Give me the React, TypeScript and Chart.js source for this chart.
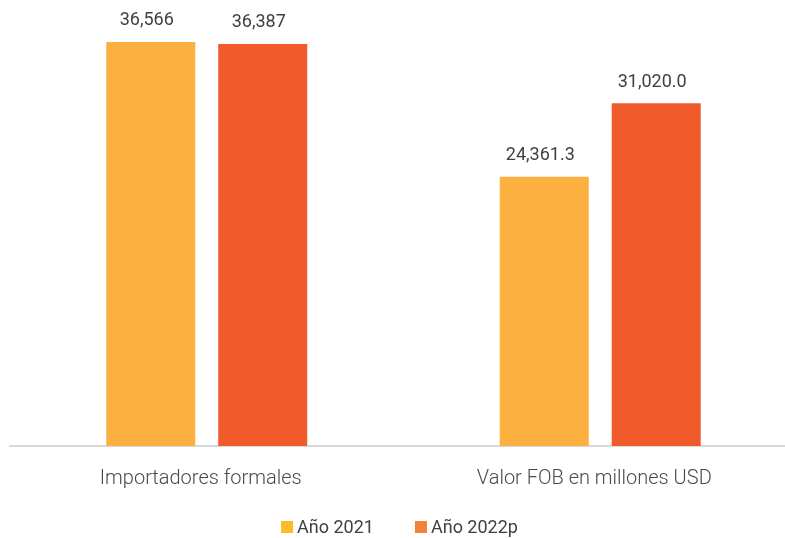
import React, { useEffect, useRef } from "react";
import { Chart, registerables } from "chart.js";

Chart.register(...registerables);

const categories = ["Importadores formales", "Valor FOB en millones USD"];
const categoryDecimals = [0, 1];
const seriesNames = ["Año 2021", "Año 2022p"];
const values2021 = [36566, 24361.3];
const values2022 = [36387, 31020.0];
const barColors = ["#FBB040", "#F15A2B"];
const legendColors = ["#FDBA2C", "#F0833C"];

const valueLabelPlugin = {
  id: "valueLabels",
  afterDatasetsDraw(chart: any) {
    const ctx = chart.ctx;
    ctx.save();
    ctx.font = "400 18px Roboto";
    ctx.fillStyle = "#404040";
    ctx.textAlign = "center";
    ctx.textBaseline = "middle";
    chart.data.datasets.forEach((ds: any, di: number) => {
      const meta = chart.getDatasetMeta(di);
      meta.data.forEach((el: any, i: number) => {
        const v = ds.data[i] as number;
        const d = categoryDecimals[i];
        const txt = v.toLocaleString("en-US", { minimumFractionDigits: d, maximumFractionDigits: d });
        ctx.fillText(txt, el.x - 4, el.y - 21);
      });
    });
    ctx.restore();
  },
};

const customLegendPlugin = {
  id: "customLegend",
  afterDraw(chart: any) {
    const ctx = chart.ctx;
    ctx.save();
    ctx.font = "400 18px Roboto";
    const box = 12;
    const gap = 4;
    const itemGap = 41;
    const labels = chart.data.datasets.map((d: any) => d.label as string);
    const widths = labels.map((l: string) => ctx.measureText(l).width);
    let total = 0;
    widths.forEach((w: number, i: number) => {
      total += box + gap + w + (i > 0 ? itemGap : 0);
    });
    const cy = 527;
    let x = 399.5 - total / 2;
    labels.forEach((l: string, i: number) => {
      ctx.fillStyle = legendColors[i];
      ctx.fillRect(x, cy - box / 2, box, box);
      ctx.fillStyle = "#404040";
      ctx.textAlign = "left";
      ctx.textBaseline = "middle";
      ctx.fillText(l, x + box + gap, cy + 1);
      x += box + gap + widths[i] + itemGap;
    });
    ctx.restore();
  },
};

export default function App() {
  const canvasRef = useRef<HTMLCanvasElement | null>(null);

  useEffect(() => {
    if (!canvasRef.current) return;
    const chart = new Chart(canvasRef.current, {
      type: "bar",
      data: {
        labels: categories,
        datasets: [
          {
            label: seriesNames[0],
            data: values2021,
            backgroundColor: barColors[0],
            categoryPercentage: 0.569,
            barPercentage: 0.795,
          },
          {
            label: seriesNames[1],
            data: values2022,
            backgroundColor: barColors[1],
            categoryPercentage: 0.569,
            barPercentage: 0.795,
          },
        ],
      },
      options: {
        animation: false,
        responsive: false,
        maintainAspectRatio: false,
        layout: { padding: { left: 10, right: 3, top: 4, bottom: 0 } },
        plugins: {
          legend: { display: false },
          tooltip: { enabled: false },
        },
        scales: {
          x: {
            grid: { display: false, drawTicks: false },
            border: { display: true, color: "#D9D9D9", width: 2 },
            ticks: {
              padding: 21,
              labelOffset: -6,
              color: "#4A4A4A",
              font: { family: "Roboto", size: 20, weight: "300" },
              maxRotation: 0,
            },
            afterFit(scale: any) {
              scale.height = 92;
            },
          },
          y: {
            display: false,
            min: 0,
            max: 40000,
          },
        },
      },
      plugins: [valueLabelPlugin, customLegendPlugin],
    });
    return () => chart.destroy();
  }, []);

  return (
    <div
      style={{
        position: "absolute",
        left: 0,
        top: 0,
        width: 785,
        height: 538,
        overflow: "hidden",
        background: "#fff",
      }}
    >
      <canvas ref={canvasRef} width={800} height={538} style={{ display: "block" }} />
    </div>
  );
}
